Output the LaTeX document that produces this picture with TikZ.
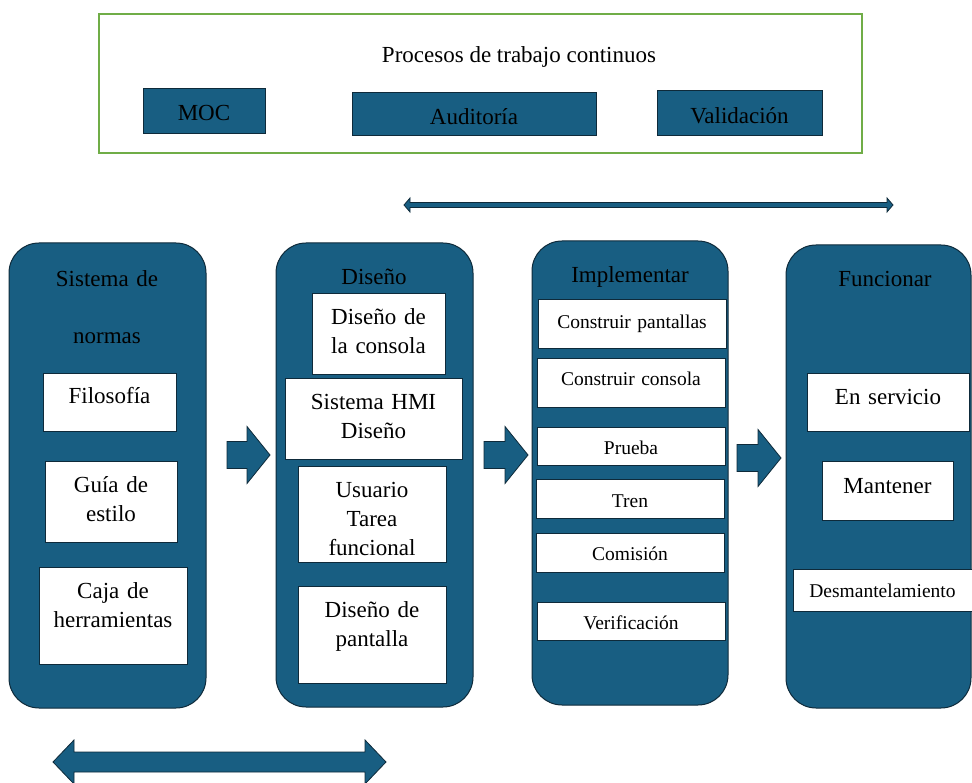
\documentclass[tikz,border=0pt]{standalone}
\usepackage{fontspec}
\setmainfont{Liberation Serif}
\usepackage{tikz}
\definecolor{hmiblue}{RGB}{24,94,130}
\definecolor{hmiedge}{RGB}{14,42,58}
\definecolor{hmigreen}{RGB}{112,173,71}
\def\txtlarge{\fontsize{23}{29}\selectfont}
\def\txtsmall{\fontsize{19.5}{24}\selectfont}
% block arrow: tail x, tip x, y
\newcommand\blockarrow[3]{%
\filldraw[arrowfill] (#1,#3-13.5) -- (#2-23,#3-13.5) -- (#2-23,#3-28.5) -- (#2,#3)
-- (#2-23,#3+28.5) -- (#2-23,#3+13.5) -- (#1,#3+13.5) -- cycle;}
% double arrow: left x, right x, y, shaft half, head half, head length
\newcommand\dblarrow[6]{%
\filldraw[arrowfill] (#1,#3) -- (#1+#6,#3-#5) -- (#1+#6,#3-#4) -- (#2-#6,#3-#4)
-- (#2-#6,#3-#5) -- (#2,#3) -- (#2-#6,#3+#5) -- (#2-#6,#3+#4) -- (#1+#6,#3+#4)
-- (#1+#6,#3+#5) -- cycle;}

\begin{document}
\begin{tikzpicture}[x=1pt, y=-1pt,
  nodes = {font=\txtlarge},
  column/.style = {draw=hmiedge, fill=hmiblue, line width=1pt, rounded corners=30pt, inner sep=0pt},
  inbox/.style = {draw=hmiedge, fill=white, line width=0.8pt, inner sep=0pt, anchor=north, align=center},
  darkbox/.style = {inbox, fill=hmiblue},
  coltitle/.style = {anchor=base, text width=185pt, align=center},
  arrowfill/.style = {fill=hmiblue, draw=hmiedge, line width=0.8pt}]
\useasboundingbox (0,0) rectangle (972,783);

% continuous work processes
\node[draw=hmigreen, line width=1.5pt, minimum width=763pt, minimum height=139pt, inner sep=0pt] (procesos) at (480.5,83.5) {};
\node[anchor=base] (tprocesos) at (519,63) {Procesos de trabajo continuos};
\node[darkbox, text width=122pt, text height=32pt, text depth=13pt] (moc) at (204,88) {MOC};
\node[darkbox, text width=244pt, text height=32pt, text depth=11pt] (auditoria) at (474,92) {Auditoría};
\node[darkbox, text width=165pt, text height=33pt, text depth=12pt] (validacion) at (739.5,90) {Validación};

\dblarrow{404}{893}{205}{2.5}{7}{6}

% the four phases
\node[column, minimum width=197pt, minimum height=465pt] (normas) at (107.5,475.5) {};
\node[column, minimum width=197pt, minimum height=464pt] (diseno) at (374.5,475) {};
\node[column, minimum width=196pt, minimum height=464pt] (implementar) at (630,473) {};
\node[column, minimum width=185pt, minimum height=463pt] (funcionar) at (878.5,476.5) {};

\node[coltitle] (tnormas) at (107,287) {Sistema de\\[28pt]normas};
\node[coltitle] (tdiseno) at (374,285) {Diseño};
\node[coltitle] (timplementar) at (630,283) {Implementar};
\node[coltitle] (tfuncionar) at (885,287) {Funcionar};

% Sistema de normas
\node[inbox, text width=133pt, text height=30pt, text depth=28pt] (filosofia) at (109.5,373) {Filosofía};
\node[inbox, text width=132pt, text height=31pt, text depth=50pt] (guia) at (111,461) {Guía de\\estilo};
\node[inbox, text width=148pt, text height=31pt, text depth=66pt] (caja) at (113,567) {Caja de\\herramientas};

% Diseño
\node[inbox, text width=133pt, text height=31pt, text depth=50pt] (consola) at (378.5,293) {Diseño de\\la consola};
\node[inbox, text width=177pt, text height=31pt, text depth=50pt] (hmi) at (373.5,378) {Sistema HMI\\Diseño};
\node[inbox, text width=148pt, text height=31pt, text depth=65pt] (usuario) at (372,466) {Usuario\\Tarea\\funcional};
\node[inbox, text width=148pt, text height=31pt, text depth=66pt] (pantalla) at (372,586) {Diseño de\\pantalla};

% Implementar
\foreach \nm/\cx/\top/\th/\td/\txt in {
  pantallas/632/299/29/20/Construir pantallas,
  cconsola/631/358/27/22/Construir consola,
  prueba/631/427/27/11/Prueba,
  tren/630/479/28/11/Tren,
  comision/630/533/27/12/Comisión,
  verificacion/631/602/27/11/Verificación
} {
\node[inbox, font=\txtsmall, text width=188pt, text height=\th pt, text depth=\td pt] (\nm) at (\cx,\top) {\txt};
}

% Funcionar
\node[inbox, text width=162pt, text height=31pt, text depth=27pt] (servicio) at (888,373) {En servicio};
\node[inbox, text width=131pt, text height=32pt, text depth=27pt] (mantener) at (887.5,461) {Mantener};
\node[inbox, font=\txtsmall, text width=179pt, text height=28pt, text depth=14pt] (desmantel) at (882.5,569) {Desmantelamiento};

% arrows between the phases
\foreach \tx/\hx/\ay in {227/270/455, 484/528/455, 737/781/458} {
\blockarrow{\tx}{\hx}{\ay}
}
\dblarrow{53}{386}{762}{10}{22}{21}
\end{tikzpicture}
\end{document}
